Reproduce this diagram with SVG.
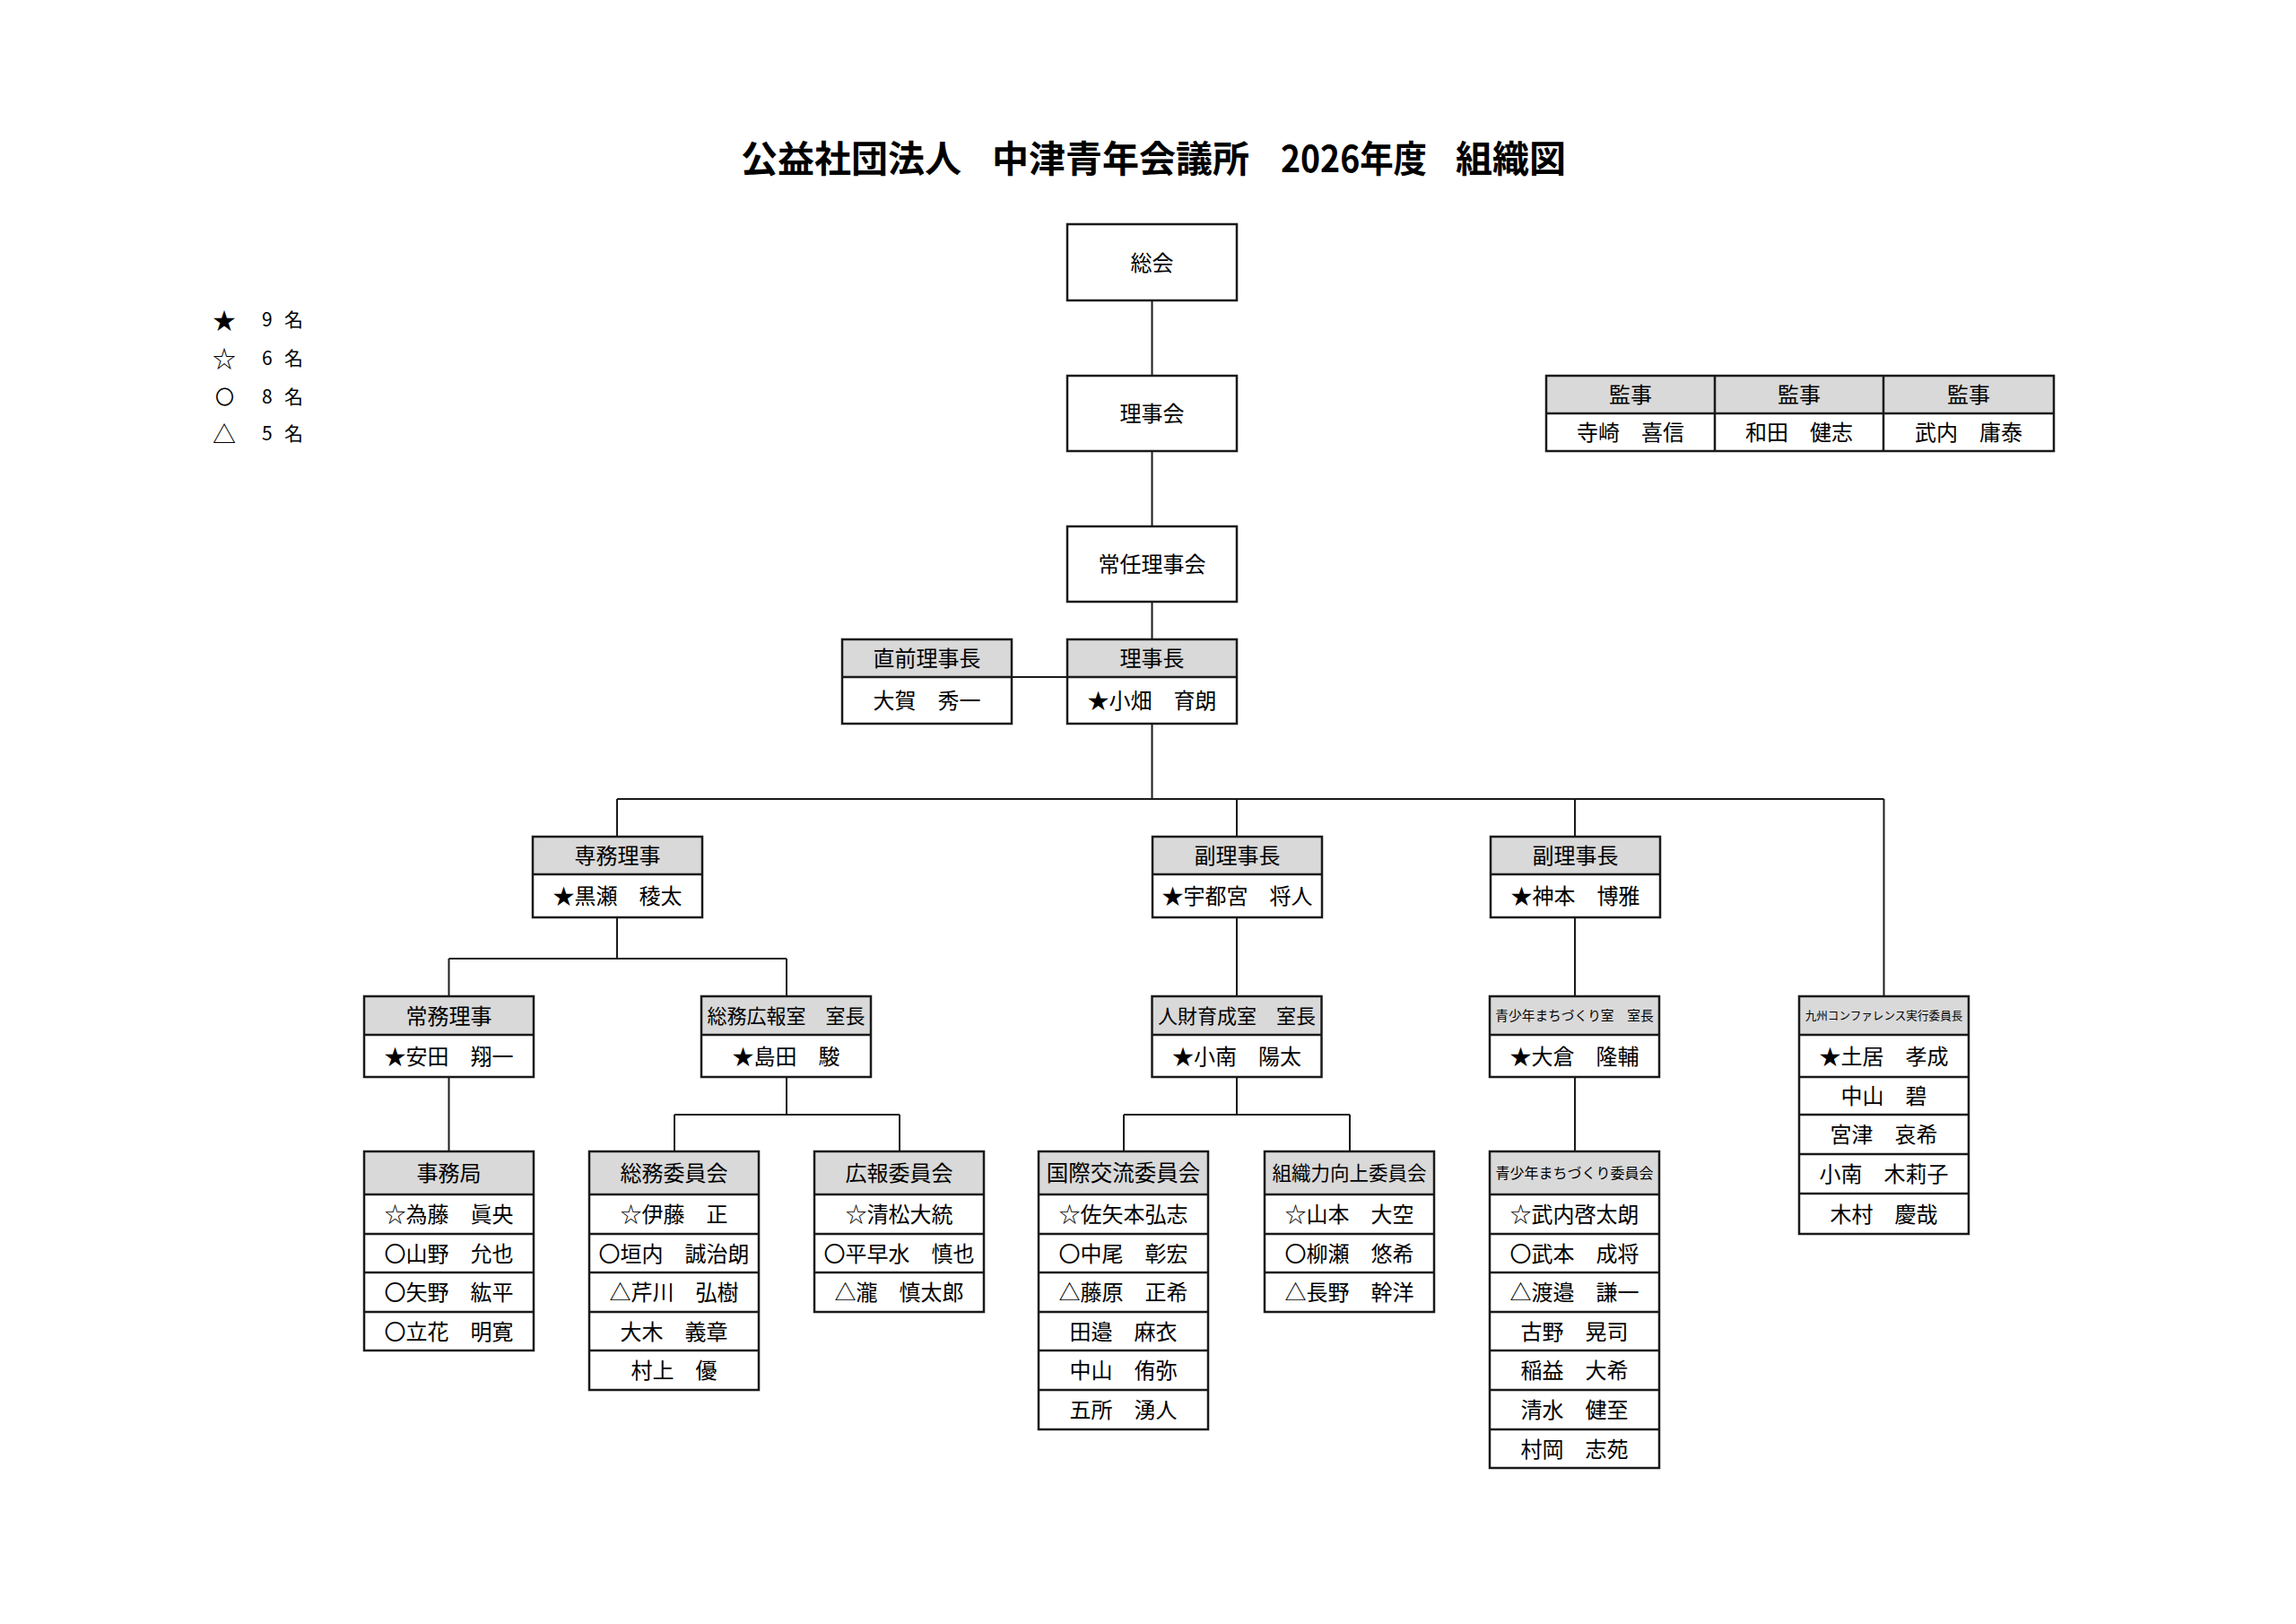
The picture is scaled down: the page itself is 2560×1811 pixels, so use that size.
<svg xmlns="http://www.w3.org/2000/svg" width="2560" height="1811" viewBox="0 0 2560 1811">
<style>
text{font-family:"Noto Sans CJK JP","Noto Sans",sans-serif;fill:#000;dominant-baseline:central;text-anchor:middle;font-size:24px;transform:translateY(-1.5px)}
.title{font-size:41px;font-weight:bold;text-anchor:start}
.lg{font-size:21px;text-anchor:start}
.sym{font-size:26px}
.bx{fill:none;stroke:#1a1a1a;stroke-width:2.5}
.wb{fill:#fff;stroke:#1a1a1a;stroke-width:2.5}
.hd{fill:#d9d9d9;stroke:none}
.dv{fill:none;stroke:#1a1a1a;stroke-width:2.5}
.ln{fill:none;stroke:#1a1a1a;stroke-width:2}
</style>
<rect width="2560" height="1811" fill="#fff"/>
<text class="title" y="175"><tspan x="826">公益社団法人</tspan><tspan x="1106">中津青年会議所</tspan><tspan x="1428" textLength="163" lengthAdjust="spacingAndGlyphs">2026年度</tspan><tspan x="1623">組織図</tspan></text>
<g id="legend">
<text class="lg" y="356"><tspan class="sym" x="237">★</tspan><tspan x="292">9</tspan><tspan x="317">名</tspan></text>
<text class="lg" y="399"><tspan class="sym" x="237">☆</tspan><tspan x="292">6</tspan><tspan x="317">名</tspan></text>
<text class="lg" y="442"><tspan x="240">〇</tspan><tspan x="292">8</tspan><tspan x="317">名</tspan></text>
<text class="lg" y="483"><tspan class="sym" x="237">△</tspan><tspan x="292">5</tspan><tspan x="317">名</tspan></text>
</g>
<g id="connectors">
<path class="ln" d="M1284.5 335V419M1284.5 503V587M1284.5 671V713M1128 755H1190M1284.5 807V891M688 891H2100.5M688 891V933M1379 891V933M1756 891V933M2100.5 891V1111"/>
<path class="ln" d="M688 1023V1069M500.5 1069H877M500.5 1069V1111M877 1069V1111M500.5 1201V1284M877 1201V1243M752 1243H1003M752 1243V1284M1003 1243V1284"/>
<path class="ln" d="M1379 1023V1111M1379 1201V1243M1253 1243H1505M1253 1243V1284M1505 1243V1284M1756 1023V1111M1756 1201V1284"/>
</g>
<g id="soukai"><rect class="wb" x="1190" y="250" width="189" height="85"/><text x="1284.5" y="292.5">総会</text></g>
<g id="rijikai"><rect class="wb" x="1190" y="419" width="189" height="84"/><text x="1284.5" y="461">理事会</text></g>
<g id="jouninrijikai"><rect class="wb" x="1190" y="587" width="189" height="84"/><text x="1284.5" y="629">常任理事会</text></g>
<g id="kansa">
<rect class="hd" x="1724" y="419" width="566" height="42"/>
<rect class="bx" x="1724" y="419" width="566" height="84"/>
<path class="dv" d="M1724 461H2290M1912 419V503M2100 419V503"/>
<text x="1818" y="440">監事</text><text x="2006" y="440">監事</text><text x="2195" y="440">監事</text>
<text x="1818" y="482">寺崎　喜信</text><text x="2006" y="482">和田　健志</text><text x="2195" y="482">武内　庸泰</text>
</g>
<g id="chokuzen">
<rect class="hd" x="939" y="713" width="189" height="42"/><rect class="bx" x="939" y="713" width="189" height="94"/><path class="dv" d="M939 755H1128"/>
<text x="1033.5" y="734">直前理事長</text><text x="1033.5" y="781">大賀　秀一</text>
</g>
<g id="rijichou">
<rect class="hd" x="1190" y="713" width="189" height="42"/><rect class="bx" x="1190" y="713" width="189" height="94"/><path class="dv" d="M1190 755H1379"/>
<text x="1284.5" y="734">理事長</text><text x="1284.5" y="781">★小畑　育朗</text>
</g>
<g id="senmu">
<rect class="hd" x="594" y="933" width="189" height="42"/><rect class="bx" x="594" y="933" width="189" height="90"/><path class="dv" d="M594 975H783"/>
<text x="688.5" y="954">専務理事</text><text x="688.5" y="999">★黒瀬　稜太</text>
</g>
<g id="fukurijichou1">
<rect class="hd" x="1285" y="933" width="189" height="42"/><rect class="bx" x="1285" y="933" width="189" height="90"/><path class="dv" d="M1285 975H1474"/>
<text x="1379.5" y="954">副理事長</text><text x="1379.5" y="999">★宇都宮　将人</text>
</g>
<g id="fukurijichou2">
<rect class="hd" x="1662" y="933" width="189" height="42"/><rect class="bx" x="1662" y="933" width="189" height="90"/><path class="dv" d="M1662 975H1851"/>
<text x="1756.5" y="954">副理事長</text><text x="1756.5" y="999">★神本　博雅</text>
</g>
<g id="joumu">
<rect class="hd" x="406" y="1111" width="189" height="43"/><rect class="bx" x="406" y="1111" width="189" height="90"/><path class="dv" d="M406 1154H595"/>
<text x="500.5" y="1132.5">常務理事</text><text x="500.5" y="1177.5">★安田　翔一</text>
</g>
<g id="soumukouhoushitsu">
<rect class="hd" x="782" y="1111" width="189" height="43"/><rect class="bx" x="782" y="1111" width="189" height="90"/><path class="dv" d="M782 1154H971"/>
<text x="876.5" y="1132.5" style="font-size:22px">総務広報室　室長</text><text x="876.5" y="1177.5">★島田　駿</text>
</g>
<g id="jinzaiikusei">
<rect class="hd" x="1284.5" y="1111" width="189" height="43"/><rect class="bx" x="1284.5" y="1111" width="189" height="90"/><path class="dv" d="M1284.5 1154H1473.5"/>
<text x="1379" y="1132.5" style="font-size:22px">人財育成室　室長</text><text x="1379" y="1177.5">★小南　陽太</text>
</g>
<g id="seishounenshitsu">
<rect class="hd" x="1661" y="1111" width="189" height="43"/><rect class="bx" x="1661" y="1111" width="189" height="90"/><path class="dv" d="M1661 1154H1850"/>
<text x="1755.5" y="1132.5" style="font-size:14.7px">青少年まちづくり室　室長</text><text x="1755.5" y="1177.5">★大倉　隆輔</text>
</g>
<g id="kyushu">
<rect class="hd" x="2006" y="1111" width="189" height="43"/><rect class="bx" x="2006" y="1111" width="189" height="265"/>
<path class="dv" d="M2006 1154H2195M2006 1201H2195M2006 1243H2195M2006 1287H2195M2006 1331H2195"/>
<text x="2100.5" y="1132.5" style="font-size:12.6px">九州コンファレンス実行委員長</text>
<text x="2100.5" y="1177.5">★土居　孝成</text>
<text x="2100.5" y="1222">中山　碧</text>
<text x="2100.5" y="1265">宮津　哀希</text>
<text x="2100.5" y="1309">小南　木莉子</text>
<text x="2100.5" y="1353.5">木村　慶哉</text>
</g>
<g id="jimukyoku">
<rect class="hd" x="406" y="1284" width="189" height="48"/><rect class="bx" x="406" y="1284" width="189" height="222"/>
<path class="dv" d="M406 1332H595M406 1376H595M406 1419H595M406 1463H595"/>
<text x="500.5" y="1308">事務局</text>
<text x="500.5" y="1354">☆為藤　眞央</text>
<text x="500.5" y="1397.5">〇山野　允也</text>
<text x="500.5" y="1441">〇矢野　紘平</text>
<text x="500.5" y="1484.5">〇立花　明寛</text>
</g>
<g id="soumuiinkai">
<rect class="hd" x="657" y="1284" width="189" height="48"/><rect class="bx" x="657" y="1284" width="189" height="266"/>
<path class="dv" d="M657 1332H846M657 1376H846M657 1419H846M657 1463H846M657 1506H846"/>
<text x="751.5" y="1308">総務委員会</text>
<text x="751.5" y="1354">☆伊藤　正</text>
<text x="751.5" y="1397.5">〇垣内　誠治朗</text>
<text x="751.5" y="1441">△芹川　弘樹</text>
<text x="751.5" y="1484.5">大木　義章</text>
<text x="751.5" y="1528">村上　優</text>
</g>
<g id="kouhouiinkai">
<rect class="hd" x="908" y="1284" width="189" height="48"/><rect class="bx" x="908" y="1284" width="189" height="179"/>
<path class="dv" d="M908 1332H1097M908 1376H1097M908 1419H1097"/>
<text x="1002.5" y="1308">広報委員会</text>
<text x="1002.5" y="1354">☆清松大統</text>
<text x="1002.5" y="1397.5">〇平早水　慎也</text>
<text x="1002.5" y="1441">△瀧　慎太郎</text>
</g>
<g id="kokusaikouryuu">
<rect class="hd" x="1158" y="1284" width="189" height="48"/><rect class="bx" x="1158" y="1284" width="189" height="310"/>
<path class="dv" d="M1158 1332H1347M1158 1376H1347M1158 1419H1347M1158 1463H1347M1158 1506H1347M1158 1550H1347"/>
<text x="1252.5" y="1308" style="font-size:24.5px">国際交流委員会</text>
<text x="1252.5" y="1354">☆佐矢本弘志</text>
<text x="1252.5" y="1397.5">〇中尾　彰宏</text>
<text x="1252.5" y="1441">△藤原　正希</text>
<text x="1252.5" y="1484.5">田邉　麻衣</text>
<text x="1252.5" y="1528">中山　侑弥</text>
<text x="1252.5" y="1572">五所　湧人</text>
</g>
<g id="soshikiryoku">
<rect class="hd" x="1410" y="1284" width="189" height="48"/><rect class="bx" x="1410" y="1284" width="189" height="179"/>
<path class="dv" d="M1410 1332H1599M1410 1376H1599M1410 1419H1599"/>
<text x="1504.5" y="1308" style="font-size:21.5px">組織力向上委員会</text>
<text x="1504.5" y="1354">☆山本　大空</text>
<text x="1504.5" y="1397.5">〇柳瀬　悠希</text>
<text x="1504.5" y="1441">△長野　幹洋</text>
</g>
<g id="seishounen-iinkai">
<rect class="hd" x="1661" y="1284" width="189" height="48"/><rect class="bx" x="1661" y="1284" width="189" height="353"/>
<path class="dv" d="M1661 1332H1850M1661 1376H1850M1661 1419H1850M1661 1463H1850M1661 1506H1850M1661 1550H1850M1661 1594H1850"/>
<text x="1755.5" y="1308" style="font-size:16px">青少年まちづくり委員会</text>
<text x="1755.5" y="1354">☆武内啓太朗</text>
<text x="1755.5" y="1397.5">〇武本　成将</text>
<text x="1755.5" y="1441">△渡邉　謙一</text>
<text x="1755.5" y="1484.5">古野　晃司</text>
<text x="1755.5" y="1528">稲益　大希</text>
<text x="1755.5" y="1572">清水　健至</text>
<text x="1755.5" y="1615.5">村岡　志苑</text>
</g>
</svg>
